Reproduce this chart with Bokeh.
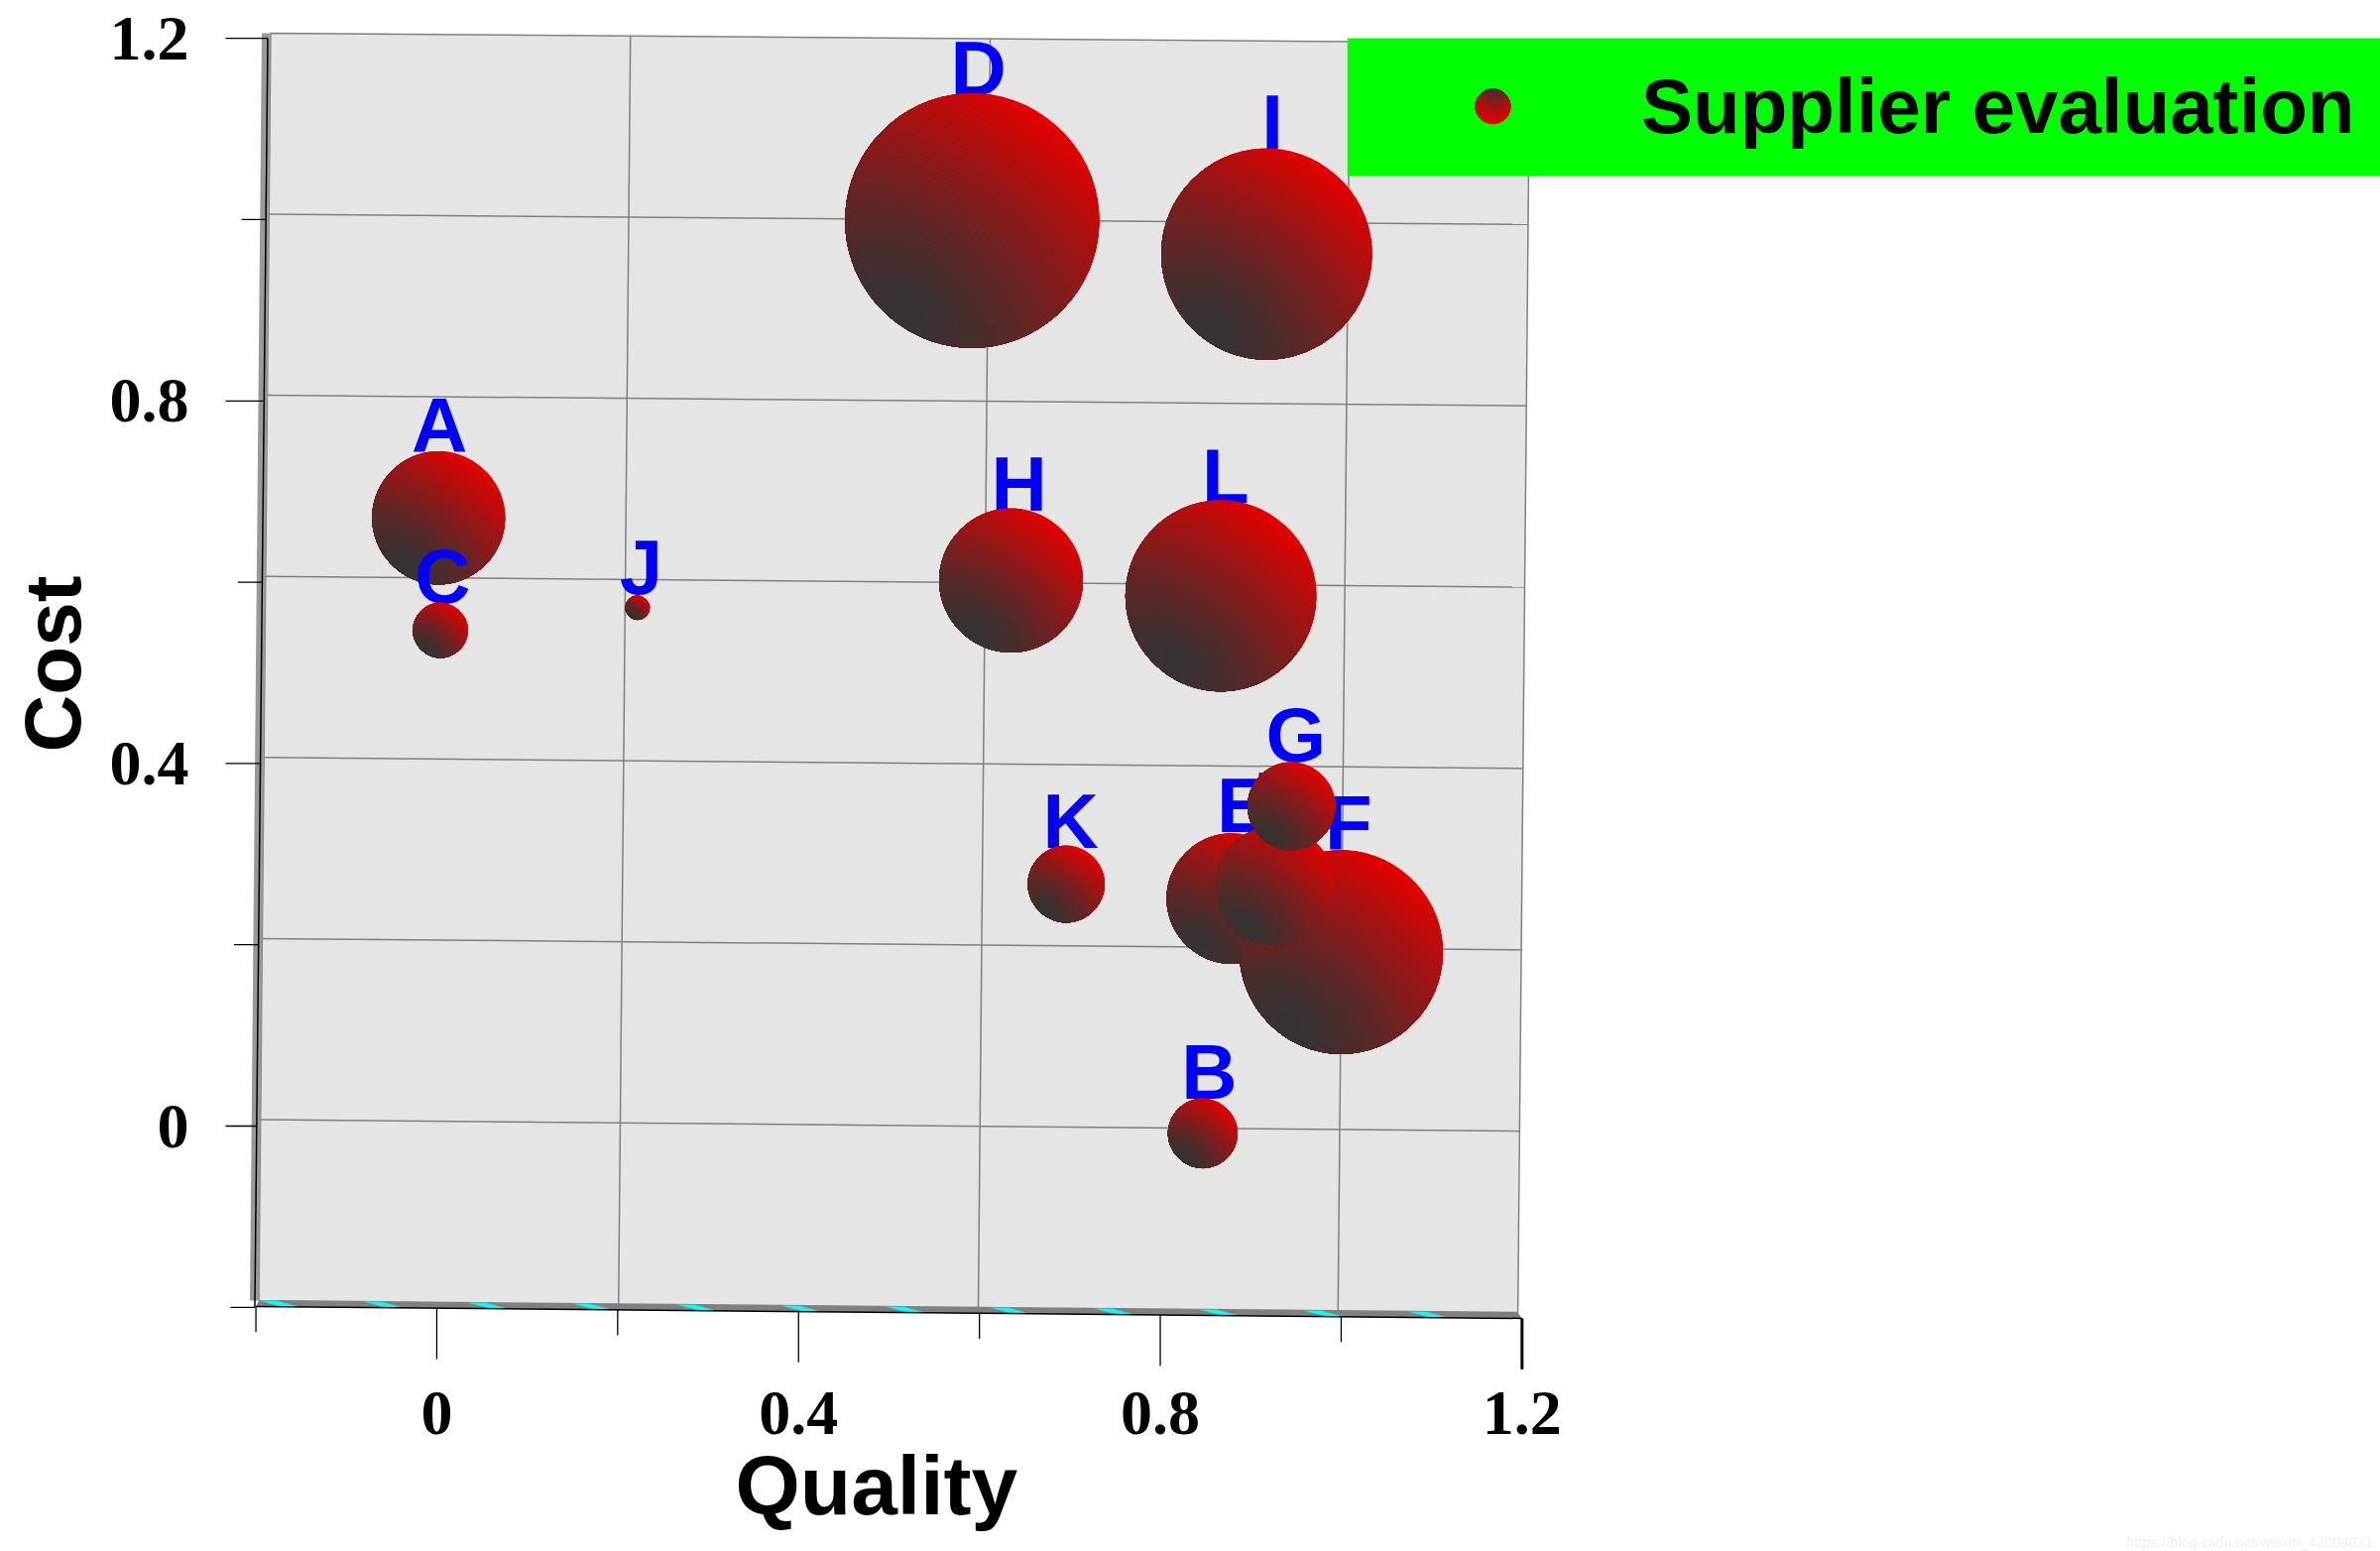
import numpy as np
from bokeh.embed import file_html
from bokeh.resources import INLINE
from bokeh.plotting import figure
from bokeh.core.properties import value
from bokeh.models import FixedTicker, Legend, LegendItem, Range1d, Title

# ---- data ----------------------------------------------------------------
suppliers = ["D", "I", "L", "H", "A", "C", "J", "K", "B", "F", "E", "M", "G"]
quality = [0.592, 0.9176, 0.867, 0.635, 0.002, 0.004, 0.222, 0.696, 0.847, 1.000, 0.879, 0.927, 0.945]
cost = [0.999, 0.962, 0.585, 0.602, 0.671, 0.547, 0.572, 0.267, -0.008, 0.192, 0.251, 0.265, 0.353]
radius = [0.140, 0.116, 0.105, 0.079, 0.073, 0.030, 0.013, 0.042, 0.038, 0.112, 0.0715, 0.0655, 0.048]
label_x = [0.599, 0.924, 0.872, 0.644, 0.003, 0.0065, 0.226, 0.701, 0.854, 1.008, 0.891, 0.939, 0.950]
label_y = [1.136, 1.077, 0.687, 0.678, 0.742, 0.576, 0.586, 0.306, 0.029, 0.304, 0.323, 0.330, 0.4015]

x_major = [0, 0.4, 0.8, 1.2]
y_major = [0, 0.4, 0.8, 1.2]
x_minor = [-0.2, 0.2, 0.6, 1.0]
y_minor = [-0.2, 0.2, 0.6, 1.0]
wall_v_lines = [0.2, 0.6, 1.0]
wall_h_lines = [-0.0, 0.2, 0.4, 0.6, 0.8, 1.0]
legend_center = (1.1678, 1.1247)
legend_radius = 0.0192
legend_box = (1.0069, 2.1492, 1.0481, 1.2002)
watermark = "https://blog.csdn.net/weixin_42008031"

# ---- wall of the tilted 3D box, corners in data units --------------------
TL, TR, BR, BL = (-0.1837, 1.2057), (1.2086, 1.1947), (1.1954, -0.2057), (-0.1968, -0.1926)
RED, DARK = np.array([232, 0, 0]), np.array([51, 51, 51])
XMIN, XMAX, YMIN, YMAX = -0.2335, 2.1492, -0.2735, 1.2144


def on_wall(x, y):
    u, v = (x + 0.2) / 1.4, (y + 0.2) / 1.4
    px = (1 - v) * ((1 - u) * BL[0] + u * BR[0]) + v * ((1 - u) * TL[0] + u * TR[0])
    py = (1 - v) * ((1 - u) * BL[1] + u * BR[1]) + v * ((1 - u) * TL[1] + u * TR[1])
    return px, py


def on_x_axis(x):
    return x, -0.1991 - 0.0131 * (x + 0.2) / 1.4


def on_y_axis(y):
    return -0.1869 - 0.0143 * (1.2 - y) / 1.4, y


def hex_color(t):
    c = (1 - t) * DARK + t * RED
    return "#%02x%02x%02x" % tuple(int(round(v)) for v in c)


def sphere(cx, cy, r, fx=-0.50, fy=-0.69, reach=1.885, power=1.3, flat=0.6, tilt=0.927, bands=48):
    """Circle shaded by elliptical rings round a focus: polygons, far ring first."""
    th = np.linspace(0, 2 * np.pi, 121)[:-1]
    ox, oy = fx * r, fy * r
    dx, dy = np.cos(th), np.sin(th)
    b = ox * dx + oy * dy
    d = -b + np.sqrt(np.maximum(0, b * b - (ox * ox + oy * oy - r * r)))
    g = np.sqrt(np.cos(th - tilt) ** 2 + (flat * np.sin(th - tilt)) ** 2)
    xs, ys, cols = [], [], []
    for i in range(bands, 0, -1):
        t = i / bands
        rho = np.minimum(d, t * reach * r / g)
        xs.append((cx + ox + rho * dx).tolist())
        ys.append((cy + oy + rho * dy).tolist())
        cols.append(hex_color(t ** power))
    return xs, ys, cols


p = figure(
    width=2400, height=1564, output_backend="svg", toolbar_location=None,
    x_range=Range1d(XMIN, XMAX), y_range=Range1d(YMIN, YMAX),
    min_border_left=226, min_border_right=0, min_border_top=25, min_border_bottom=179,
    background_fill_color="white", border_fill_color="white", outline_line_color=None,
)
p.grid.visible = False

# wall
wx = [TL[0], TR[0], BR[0], BL[0]]
wy = [TL[1], TR[1], BR[1], BL[1]]
p.patch(wx, wy, fill_color="#e5e5e5", line_color="#808080", line_width=1.5)

# grid
gx, gy = [], []
for x in wall_v_lines:
    a, b = on_wall(x, -0.2), on_wall(x, 1.2)
    gx.append([a[0], b[0]])
    gy.append([a[1], b[1]])
for y in wall_h_lines:
    a, b = on_wall(-0.2, y), on_wall(1.2, y)
    gx.append([a[0], b[0]])
    gy.append([a[1], b[1]])
p.multi_line(gx, gy, line_color="#808080", line_width=1.5)

# left grey band
p.patch([TL[0] - 0.0098, TL[0], BL[0], BL[0] - 0.0098], [TL[1], TL[1], BL[1], BL[1]],
        fill_color="#999999", line_color=None)

# bottom grey band with cyan stripes
a0, a1 = on_x_axis(-0.2), on_x_axis(1.2)
p.patch([BL[0], BR[0], a1[0], a0[0]], [BL[1], BR[1], a1[1], a0[1]], fill_color="#808080", line_color=None)
sx, sy = [], []
for i in range(13):
    t = BL[0] + 0.1155 * i
    w, sh = 0.0200, 0.0250
    frac0, frac1 = (t - BL[0]) / (BR[0] - BL[0]), (t + w - BL[0]) / (BR[0] - BL[0])
    t1 = BL[1] + frac0 * (BR[1] - BL[1])
    t2 = BL[1] + frac1 * (BR[1] - BL[1])
    if t + w > BR[0]:
        continue
    sx.append([t, t + w, t + w + sh, t + sh])
    sy.append([t1, t2, t2 - 0.0066, t1 - 0.0066])
p.patches(sx, sy, fill_color="#00ffff", line_color=None)

# axis lines and tick marks follow the tilt of the box
p.line([a0[0], a1[0]], [a0[1], a1[1]], line_color="black", line_width=1.5)
b0, b1 = on_y_axis(-0.2), on_y_axis(1.2)
p.line([b0[0], b1[0]], [b0[1], b1[1]], line_color="black", line_width=1.5)

tx, ty = [], []
for x, length in [(v, 0.0560) for v in x_major] + [(v, 0.0280) for v in x_minor]:
    q = on_x_axis(x)
    tx.append([q[0], q[0]])
    ty.append([q[1], q[1] - length])
for y, length in [(v, 0.0560) for v in y_major] + [(v, 0.0270) for v in y_minor]:
    q = on_y_axis(y)
    tx.append([q[0], q[0] - length])
    ty.append([q[1], q[1]])
p.multi_line(tx, ty, line_color="black", line_width=1.3)
q = on_x_axis(x_major[-1])
p.line([q[0], q[0]], [q[1], q[1] - 0.056], line_color="black", line_width=3)

# labels and spheres, back to front
for name, qx, cy, r, lx, ly in zip(suppliers, quality, cost, radius, label_x, label_y):
    p.text([lx], [ly], text=[name], text_color="#0000ff", text_align="center", text_baseline="alphabetic",
           y_offset=-28, text_font=value("Liberation Sans"), text_font_style="bold", text_font_size="78px")
    xs, ys, cols = sphere(qx, cy, r)
    p.patches(xs, ys, fill_color=cols, line_color=cols, line_width=0.5)

# axes: the ticks are drawn above, the axes carry the numbers
xaxis, yaxis = p.xaxis[0], p.yaxis[0]
xaxis.ticker = FixedTicker(ticks=x_major)
yaxis.ticker = FixedTicker(ticks=y_major)
for ax in (xaxis, yaxis):
    ax.axis_line_color = None
    ax.major_tick_line_color = None
    ax.minor_tick_line_color = None
    ax.major_label_text_font = "Liberation Serif"
    ax.major_label_text_font_style = "bold"
    ax.major_label_text_font_size = "64px"
    ax.major_label_text_color = "black"
xaxis.major_label_standoff = 12
yaxis.major_label_standoff = 31

p.add_layout(Title(text="Quality", align="left", offset=514, standoff=0, text_line_height=1.73,
                   text_font="Liberation Sans", text_font_style="bold", text_font_size="84px", text_color="black"),
             "below")
p.add_layout(Title(text="Cost", align="left", offset=627, standoff=16, vertical_align="top", text_line_height=1.4,
                   text_font="Liberation Sans", text_font_style="bold", text_font_size="80px", text_color="black"),
             "left")

# legend: green box and shaded key are glyphs, the legend carries the text on top of them
p.quad(left=[legend_box[0]], right=[legend_box[1]], bottom=[legend_box[2]], top=[legend_box[3]],
       fill_color="#00ff00", line_color=None)
xs, ys, cols = sphere(legend_center[0], legend_center[1], legend_radius, fx=0.0, fy=1.0, reach=2.0, power=0.8,
                      flat=1.0, tilt=0.0, bands=20)
p.patches(xs, ys, fill_color=cols, line_color=cols, line_width=0.5)
key = p.scatter([legend_center[0]], [legend_center[1]], size=35, fill_alpha=0.0, line_alpha=0.0)
legend = Legend(
    items=[LegendItem(label="Supplier evaluation", renderers=[key])],
    location=(1132, 1208), orientation="vertical", margin=0, padding=0, spacing=0,
    glyph_width=294, glyph_height=139, label_height=139, label_width=746, label_standoff=2,
    background_fill_alpha=0.0, border_line_color=None,
    label_text_font="Liberation Sans", label_text_font_style="bold", label_text_font_size="78px",
    label_text_color="black",
)
p.add_layout(legend)

# faint source line in the lower right corner
p.add_layout(Title(text=watermark, align="right", offset=8, standoff=0,
                   text_font="Liberation Sans", text_font_style="normal", text_font_size="14.6px",
                   text_color="#f0f0f0"), "below")

open("out.html", "w").write(file_html(p, INLINE))
